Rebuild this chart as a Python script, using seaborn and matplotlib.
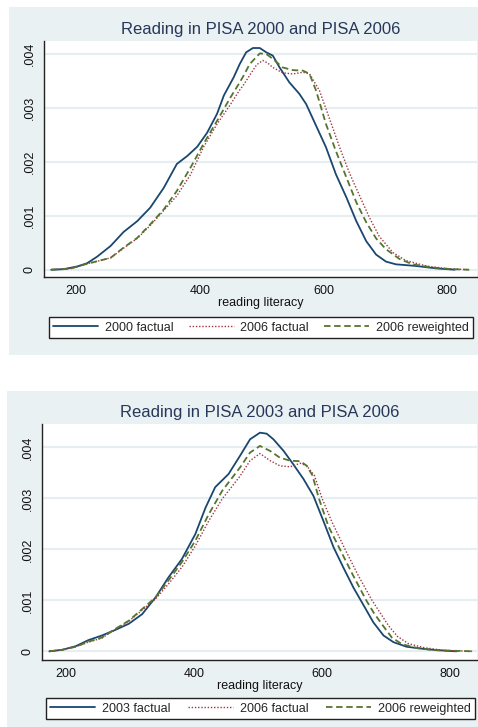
import numpy as np
import pandas as pd
import matplotlib
matplotlib.use("Agg")
import matplotlib.pyplot as plt
from matplotlib.patches import Rectangle
import seaborn as sns

# ---------------- data ----------------
top_title = "Reading in PISA 2000 and PISA 2006"
bot_title = "Reading in PISA 2003 and PISA 2006"
x_label = "reading literacy"
x_ticks = [200, 400, 600, 800]
y_ticks = [0, 0.001, 0.002, 0.003, 0.004]
y_ticklabels = ["0", ".001", ".002", ".003", ".004"]

top_labels = ["2000 factual", "2006 factual", "2006 reweighted"]
bot_labels = ["2003 factual", "2006 factual", "2006 reweighted"]

top_x_2000 = [160, 180, 202, 218, 234, 256, 277, 299, 320, 342, 363, 380, 396, 412, 428, 439, 455,
              464.5, 475, 486, 497, 507.5, 518, 529, 545, 561, 572, 588, 604, 620, 637, 653, 669,
              685, 701, 717, 749, 782, 812]
top_y_2000 = [0, 0.00001, 0.00006, 0.00012, 0.00024, 0.00044, 0.0007, 0.0009, 0.00115, 0.00152,
              0.00196, 0.00211, 0.00228, 0.00254, 0.00289, 0.00323, 0.00357, 0.00381, 0.00403,
              0.00411, 0.00411, 0.00403, 0.00397, 0.00375, 0.00347, 0.00326, 0.00307, 0.00267,
              0.00227, 0.00177, 0.00134, 0.0009, 0.00053, 0.00028, 0.00015, 0.0001, 0.00007,
              0.000025, 0]

top_x_2006 = [160, 191, 218, 256, 277, 299, 320, 342, 363, 385, 406, 428, 450, 464.5, 471, 480.6,
              492, 502, 510, 518, 534, 550.5, 567, 577.4, 593.5, 610, 626, 642, 658, 674, 690,
              712, 733, 766, 798, 835.5]
top_y_2006 = [0, 0.00002, 0.00011, 0.00022, 0.0004, 0.00058, 0.00082, 0.0011, 0.00137, 0.00176,
              0.00227, 0.0027, 0.00307, 0.00333, 0.00343, 0.0036, 0.0038, 0.00388, 0.00383,
              0.00375, 0.00365, 0.00363, 0.00366, 0.00363, 0.00332, 0.00279, 0.00227, 0.00179,
              0.00138, 0.00097, 0.00062, 0.00032, 0.00017, 0.00007, 0.00002, 0]

top_x_rw = [160, 191, 218, 256, 277, 299, 320, 342, 363, 385, 406, 428, 450, 464.5, 471, 480.6,
            497, 507.5, 518, 534, 550.5, 567, 577.4, 588, 604, 620, 637, 653, 669, 685, 701,
            722.6, 744, 776, 809, 835.5]
top_y_rw = [0, 0.00002, 0.00011, 0.00022, 0.00041, 0.00059, 0.00084, 0.00112, 0.00146, 0.00189,
            0.00233, 0.00276, 0.0032, 0.00347, 0.0036, 0.00381, 0.00401, 0.004, 0.00391, 0.00375,
            0.0037, 0.00369, 0.00363, 0.00332, 0.0027, 0.0022, 0.00171, 0.00125, 0.00088,
            0.00058, 0.00038, 0.0002, 0.0001, 0.00004, 0.00001, 0]

bot_x_2003 = [174, 194, 215, 235, 256, 277, 298, 319, 340, 360, 381, 402, 418, 433, 454, 472,
              487.5, 503, 513.5, 524, 540, 555, 571, 586.5, 602, 618, 633, 649, 665, 680, 696,
              711.5, 732, 764, 795, 810]
bot_y_2003 = [0, 0.00003, 0.0001, 0.00022, 0.00031, 0.00042, 0.00054, 0.00073, 0.00106, 0.00145,
              0.00181, 0.0023, 0.00282, 0.00322, 0.00348, 0.00384, 0.00416, 0.00429, 0.00427,
              0.00416, 0.00393, 0.00367, 0.00338, 0.00305, 0.00256, 0.00204, 0.00165, 0.00125,
              0.0009, 0.00057, 0.00031, 0.00018, 0.00009, 0.00004, 0.00001, 0]

bot_x_2006 = [174, 194, 215, 235, 256, 277, 298, 319, 340, 360, 381, 402, 423, 444, 472, 487.5,
              503, 519, 534, 550, 566, 576, 588, 600, 615, 636, 656, 678, 691, 704, 718, 735,
              760, 790, 836.5]
bot_y_2006 = [0, 0.00003, 0.00009, 0.00018, 0.00026, 0.00043, 0.00059, 0.00081, 0.00103, 0.00132,
              0.00165, 0.00207, 0.00256, 0.00299, 0.00344, 0.00374, 0.00388, 0.00374, 0.00364,
              0.00362, 0.00369, 0.00364, 0.00345, 0.0030, 0.00255, 0.002, 0.0015, 0.001,
              0.00075, 0.0005, 0.00029, 0.00015, 0.00007, 0.00002, 0]

bot_x_rw = [174, 194, 215, 235, 256, 277, 298, 319, 340, 360, 381, 402, 423, 444, 472, 487.5, 503,
            519, 534, 550, 566, 576, 585, 595, 610, 628, 648, 669, 681, 693, 709, 725, 750, 780,
            836.5]
bot_y_rw = [0, 0.00003, 0.00009, 0.00019, 0.00027, 0.00044, 0.0006, 0.00083, 0.00106, 0.00139,
            0.00175, 0.00217, 0.00269, 0.00315, 0.00361, 0.0039, 0.00403, 0.00393, 0.0038,
            0.00374, 0.00373, 0.00364, 0.00345, 0.0030, 0.00245, 0.002, 0.0015, 0.001, 0.00075,
            0.00054, 0.00027, 0.00014, 0.00006, 0.00002, 0]

# ---------------- styling ----------------
sns.set_theme(style="white")
plt.rcParams["font.family"] = ["Liberation Sans", "DejaVu Sans"]

BG = "#EAF1F3"
GRID = "#E6EEF1"
NAVY = "#1A476F"
MAROON = "#A0353E"
GREEN = "#55752F"
AXC = "#222222"
TITLEC = "#27375A"

W, H = 478, 727
fig = plt.figure(figsize=(W / 100, H / 100), dpi=100, facecolor="white")


def fx(px):
    return px / W


def fy(py):
    return 1 - py / H


# panel backgrounds
for (x0, y0, x1, y1) in [(9, 7, 478, 355), (7, 391, 478, 727)]:
    r = Rectangle((fx(x0), fy(y1)), fx(x1) - fx(x0), fy(y0) - fy(y1),
                  transform=fig.transFigure, facecolor=BG, edgecolor="none", zorder=-10)
    fig.add_artist(r)

styles = [
    dict(color=NAVY, lw=1.3, linestyle="-"),
    dict(color=MAROON, lw=1.0, linestyle=(0, (1, 1.3))),
    dict(color=GREEN, lw=1.3, linestyle=(0, (3.6, 2.0))),
]


def panel(ax_rect, title, series, labels, xlim, ylim, leg_rect):
    ax = fig.add_axes(ax_rect)
    ax.set_zorder(5)
    ax.set_facecolor("white")
    for (xs, ys), lab, st in zip(series, labels, styles):
        df = pd.DataFrame({"x": xs, "y": ys})
        sns.lineplot(data=df, x="x", y="y", ax=ax, label=lab, sort=False, **st)
    ax.set_xlim(*xlim)
    ax.set_ylim(*ylim)
    ax.set_xticks(x_ticks)
    ax.set_yticks(y_ticks)
    ax.set_yticklabels(y_ticklabels, rotation=90, va="center")
    ax.yaxis.grid(True, color=GRID, lw=1.6)
    ax.xaxis.grid(False)
    ax.set_axisbelow(True)
    for s in ["top", "right"]:
        ax.spines[s].set_visible(False)
    for s in ["left", "bottom"]:
        ax.spines[s].set_color(AXC)
        ax.spines[s].set_linewidth(1.0)
    ax.tick_params(axis="both", direction="out", length=3.5, width=0.9, color=AXC,
                   labelsize=9, labelcolor="#111111", pad=2.5)
    ax.set_xlabel(x_label, fontsize=9, color="#111111", labelpad=0)
    ax.set_ylabel("")
    ax.set_title(title, fontsize=12, color=TITLEC, pad=5)
    leg = ax.legend(loc="lower left", bbox_to_anchor=leg_rect, bbox_transform=fig.transFigure,
                    mode="expand", ncol=3, fontsize=9, frameon=True, fancybox=False,
                    framealpha=1, edgecolor="#222222", handlelength=3.6, handletextpad=0.55,
                    borderaxespad=0, borderpad=0.35, columnspacing=1.0)
    leg.get_frame().set_linewidth(1.0)
    return ax


panel([fx(44), fy(277), fx(477) - fx(44), fy(41) - fy(277)], top_title,
      [(top_x_2000, top_y_2000), (top_x_2006, top_y_2006), (top_x_rw, top_y_rw)],
      top_labels, (148.4, 848), (-0.000135, 0.00424),
      (fx(49), fy(338), fx(473) - fx(49), fy(317) - fy(338)))

panel([fx(42), fy(660), fx(477) - fx(42), fy(424) - fy(660)], bot_title,
      [(bot_x_2003, bot_y_2003), (bot_x_2006, bot_y_2006), (bot_x_rw, bot_y_rw)],
      bot_labels, (162.5, 842), (-0.00017, 0.00446),
      (fx(46), fy(719), fx(475) - fx(46), fy(698) - fy(719)))

fig.savefig("out.png", dpi=100, facecolor="white")
